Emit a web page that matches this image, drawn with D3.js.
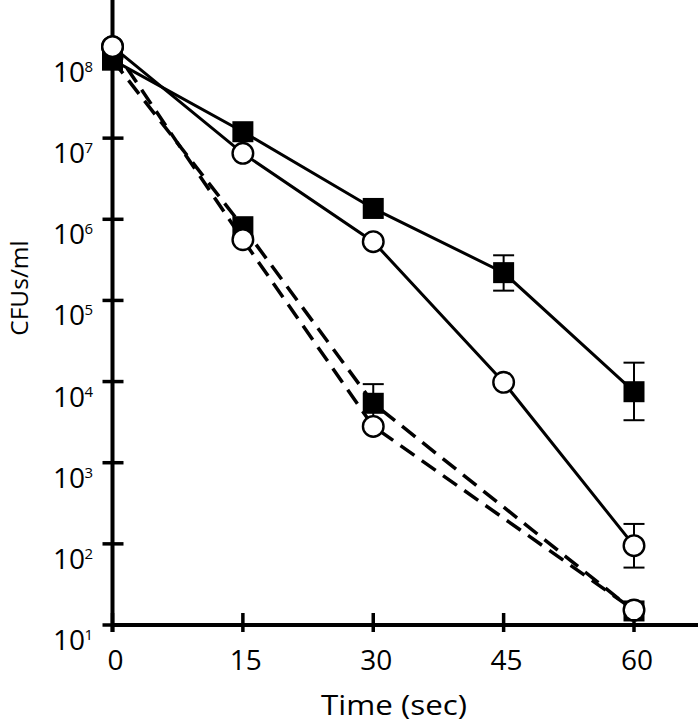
<!DOCTYPE html>
<html>
<head>
<meta charset="utf-8">
<script src="https://cdn.jsdelivr.net/npm/d3@7"></script>
<style>
  html, body { margin: 0; padding: 0; background: #fff; }
  svg { display: block; }
  text { font-family: "Open Sans", Lato, sans-serif; fill: #000; }
</style>
</head>
<body>
<svg id="chart" width="700" height="725"></svg>
<script>
// ---- data ----
const timesSolid = [0, 15, 30, 45, 60];
const timesDashed = [0, 15, 30, 60];

// solid line, filled squares
const solidSquares = [9.2e7, 1.2e7, 1.36e6, 2.2e5, 7.5e3];
const solidSquaresHi = [null, null, null, 3.6e5, 1.71e4];
const solidSquaresLo = [null, null, null, 1.32e5, 3.34e3];

// solid line, open circles
const solidCircles = [1.34e8, 6.5e6, 5.3e5, 9.8e3, 95];
const solidCirclesHi = [null, null, null, null, 176];
const solidCirclesLo = [null, null, null, null, 51];

// dashed line, filled squares
const dashedSquares = [9.2e7, 8.1e5, 5.4e3, 14.9];
const dashedSquaresHi = [null, null, 9.3e3, null];
const dashedSquaresLo = [null, null, 3.1e3, null];

// dashed line, open circles
const dashedCircles = [1.34e8, 5.6e5, 2.8e3, 15.3];

const xTickValues = [0, 15, 30, 45, 60];
const yTickExponents = [1, 2, 3, 4, 5, 6, 7, 8];
const xAxisTitle = "Time (sec)";
const yAxisTitle = "CFUs/ml";

// ---- chart ----
const svg = d3.select("#chart");
const x = d3.scaleLinear().domain([0, 60]).range([112.5, 634]);
const y = d3.scaleLog().domain([10, 1e8]).range([625, 57]);

function series(times, vals, hi, lo) {
  return times.map((t, i) => ({
    t, v: vals[i],
    hi: hi ? hi[i] : null,
    lo: lo ? lo[i] : null
  }));
}
const sA = series(timesSolid, solidSquares, solidSquaresHi, solidSquaresLo);
const sB = series(timesSolid, solidCircles, solidCirclesHi, solidCirclesLo);
const sC = series(timesDashed, dashedSquares, dashedSquaresHi, dashedSquaresLo);
const sD = series(timesDashed, dashedCircles, null, null);

// axes
const axisG = svg.append("g");
axisG.append("line")
  .attr("x1", x(0)).attr("x2", x(0))
  .attr("y1", 0).attr("y2", y(10) + 7)
  .attr("stroke", "#000").attr("stroke-width", 4);
axisG.append("line")
  .attr("x1", x(0)).attr("x2", 698)
  .attr("y1", y(10)).attr("y2", y(10))
  .attr("stroke", "#000").attr("stroke-width", 4);

// y ticks
axisG.selectAll(".ytick").data(yTickExponents).join("line")
  .attr("x1", x(0) - 10).attr("x2", x(0) + 11)
  .attr("y1", e => y(Math.pow(10, e))).attr("y2", e => y(Math.pow(10, e)))
  .attr("stroke", "#000").attr("stroke-width", 3.5);

// x ticks
axisG.selectAll(".xtick").data(xTickValues).join("line")
  .attr("x1", d => x(d)).attr("x2", d => x(d))
  .attr("y1", y(10) - 12).attr("y2", y(10) + 7)
  .attr("stroke", "#000").attr("stroke-width", 3.5);

// y tick labels
const yl = axisG.selectAll(".ylab").data(yTickExponents).join("g");
yl.append("text")
  .attr("x", 85).attr("y", e => y(Math.pow(10, e)) + 25)
  .attr("text-anchor", "end").attr("font-size", 28)
  .text("10");
yl.append("text")
  .attr("x", 84.5).attr("y", e => y(Math.pow(10, e)) + 15)
  .attr("text-anchor", "start").attr("font-size", 15)
  .text(e => e);

// x tick labels
axisG.selectAll(".xlab").data(xTickValues).join("text")
  .attr("x", d => x(d) + 3).attr("y", 670)
  .attr("text-anchor", "middle").attr("font-size", 28)
  .text(d => d);

// axis titles
svg.append("text")
  .attr("transform", `translate(394,715) scale(1.12,1)`)
  .attr("text-anchor", "middle").attr("font-size", 28)
  .text(xAxisTitle);
svg.append("text")
  .attr("transform", `translate(27.5,288) rotate(-90)`)
  .attr("text-anchor", "middle").attr("font-size", 24.5)
  .text(yAxisTitle);

// lines
const line = d3.line().x(d => x(d.t)).y(d => y(d.v));
const lineG = svg.append("g").attr("fill", "none").attr("stroke", "#000");
lineG.append("path").datum(sA).attr("d", line).attr("stroke-width", 3);
lineG.append("path").datum(sB).attr("d", line).attr("stroke-width", 3);
lineG.append("path").datum(sC).attr("d", line).attr("stroke-width", 3.5).attr("stroke-dasharray", "17,9");
lineG.append("path").datum(sD).attr("d", line).attr("stroke-width", 3.5).attr("stroke-dasharray", "17,9");

// error bars
const errData = [].concat(sA, sB, sC).filter(d => d.hi != null);
const errG = svg.append("g").attr("stroke", "#000").attr("stroke-width", 2);
errG.selectAll(".stem").data(errData).join("line")
  .attr("x1", d => x(d.t)).attr("x2", d => x(d.t))
  .attr("y1", d => y(d.hi)).attr("y2", d => y(d.lo));
errG.selectAll(".capHi").data(errData).join("line")
  .attr("x1", d => x(d.t) - 10.5).attr("x2", d => x(d.t) + 10.5)
  .attr("y1", d => y(d.hi)).attr("y2", d => y(d.hi));
errG.selectAll(".capLo").data(errData).join("line")
  .attr("x1", d => x(d.t) - 10.5).attr("x2", d => x(d.t) + 10.5)
  .attr("y1", d => y(d.lo)).attr("y2", d => y(d.lo));

// markers
const sq = 21;
const mG = svg.append("g");
mG.selectAll(".sq").data([].concat(sC, sA)).join("rect")
  .attr("x", d => x(d.t) - sq / 2).attr("y", d => y(d.v) - sq / 2)
  .attr("width", sq).attr("height", sq).attr("fill", "#000");
mG.selectAll(".ci").data([].concat(sD, sB)).join("circle")
  .attr("cx", d => x(d.t)).attr("cy", d => y(d.v)).attr("r", 10.3)
  .attr("fill", "#fff").attr("stroke", "#000").attr("stroke-width", 2.4);
</script>
</body>
</html>
